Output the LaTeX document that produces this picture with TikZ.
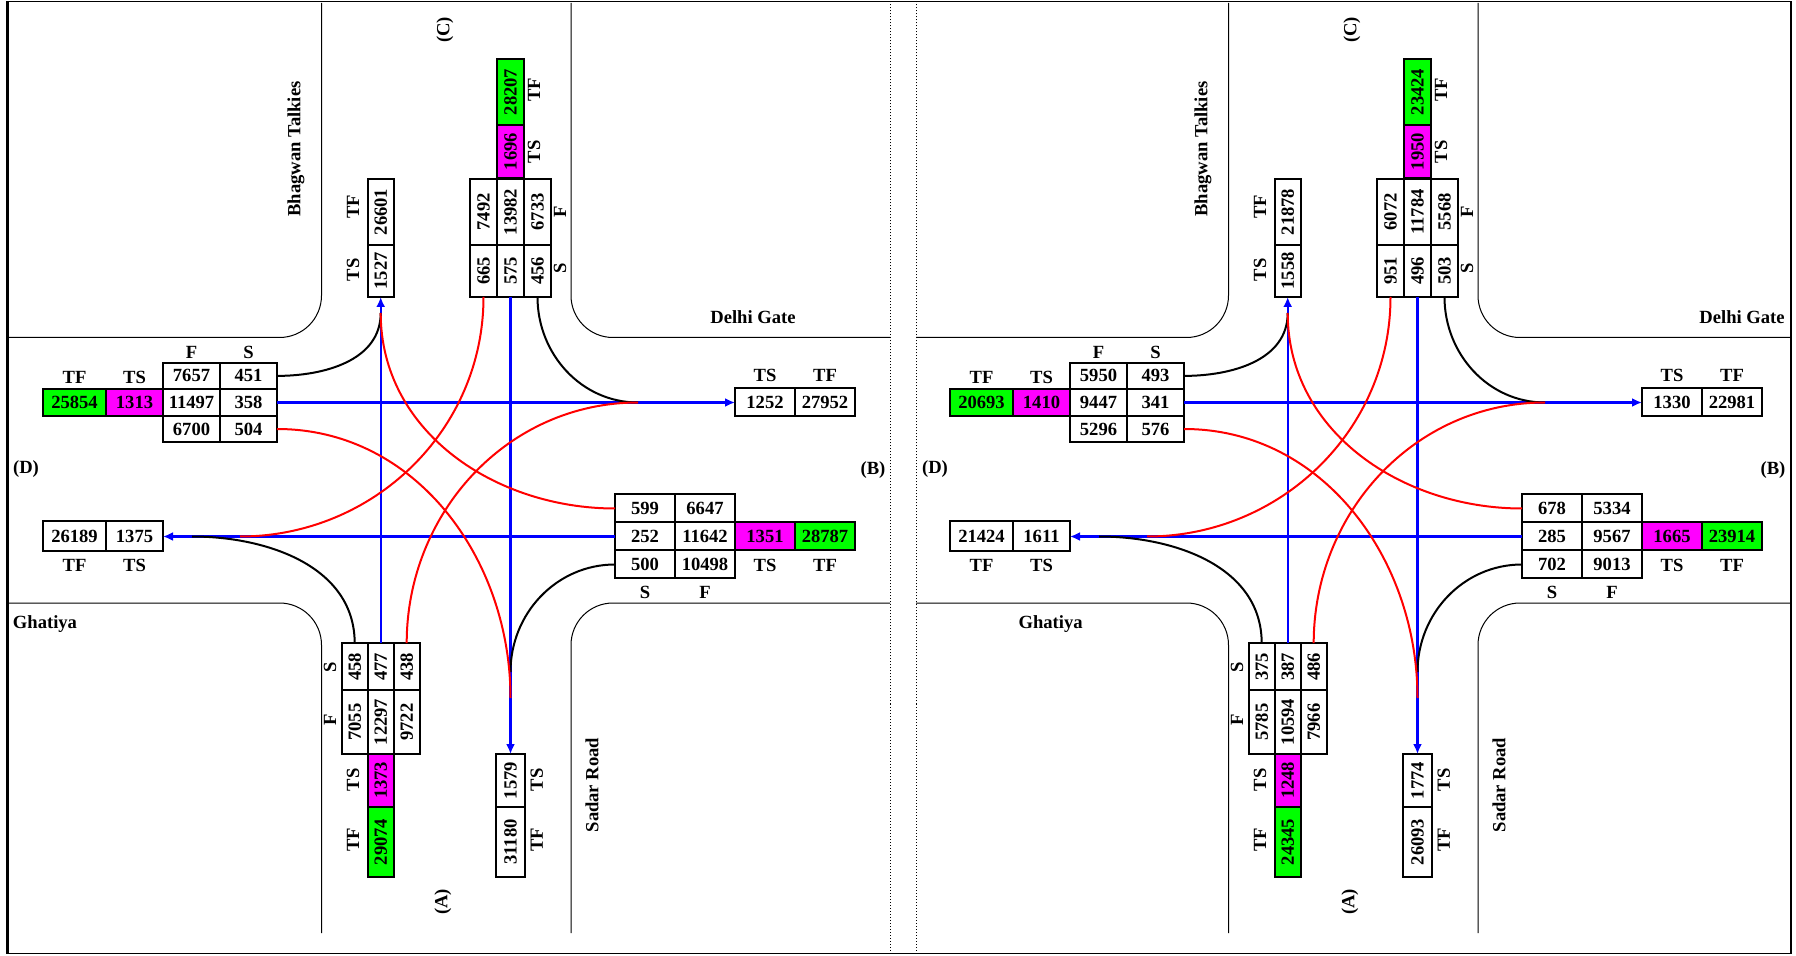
\documentclass[tikz,border=0pt]{standalone}
\usepackage{fontspec}
\setmainfont{Liberation Serif}
\usepackage{tikz}
\usetikzlibrary{arrows.meta}
\definecolor{TFGreen}{HTML}{00FF00}
\definecolor{TSMagenta}{HTML}{FF00FF}
\definecolor{FlowBlue}{HTML}{0000FF}
\definecolor{FlowRed}{HTML}{FF0000}
\newcommand{\cellfont}{\fontsize{9.3}{10}\selectfont\bfseries}
\tikzset{
  road/.style={line width=.5pt,rounded corners=21pt},
  cell/.style={draw,line width=1pt,inner sep=0pt,outer sep=0pt,font=\cellfont},
  hcell/.style={cell,minimum width=28.5pt,minimum height=13.25pt},
  bcell/.style={cell,minimum width=30pt,minimum height=14pt},
  vcell/.style={cell,rotate=90,minimum height=13.5pt},
  tsbox/.style={fill=TSMagenta},
  tfbox/.style={fill=TFGreen},
  lab/.style={font=\cellfont,inner sep=0pt},
  vlab/.style={lab,rotate=90},
  thru/.style={FlowBlue,line width=1.2pt,-{Latex[length=5pt,width=4.5pt]}},
  turnk/.style={black,line width=1pt},
  turnr/.style={FlowRed,line width=1pt}
}
\begin{document}
\begin{tikzpicture}[x=0.5pt,y=0.5pt]
\path[use as bounding box] (0,0) rectangle (1796,955);
% frame
\draw[line width=.6pt] (8,1.5) rectangle (1791,953.5);
\draw[line width=1.2pt] (7.5,1.5) -- (7.5,953.5);
\draw[densely dotted,line width=.5pt] (890,1.5) -- (890,953.5);
\draw[densely dotted,line width=.5pt] (916,1.5) -- (916,953.5);

% ---------------- left junction ----------------
\begin{scope}
\draw[road] (321.5,952) |- (8,617.5);
\draw[road] (571,952) |- (890,617.5);
\draw[road] (321.5,22) |- (8,352);
\draw[road] (571,22) |- (890,352);
\node[vlab] (lblC) at (445,925) {(C)};
\node[vlab] (lblA) at (443,53) {(A)};
\node[lab] (lblD) at (26,486) {(D)};
\node[lab] (lblB) at (873,485) {(B)};
\node[vlab] (bhagwan) at (296,806) {Bhagwan Talkies};
\node[lab] (delhi) at (753,638) {Delhi Gate};
\node[lab] (ghatiya) at (45,331) {Ghatiya};
\node[vlab] (sadar) at (592,170) {Sadar Road};

% approach D
\node[hcell] (Df1) at (191.5,579.1) {7657};
\node[hcell] (Ds1) at (248.5,579.1) {451};
\node[hcell] (Df2) at (191.5,552.5) {11497};
\node[hcell] (Ds2) at (248.5,552.5) {358};
\node[hcell] (Df3) at (191.5,526) {6700};
\node[hcell] (Ds3) at (248.5,526) {504};
\node[hcell,tsbox] (Dts) at (134.5,552.5) {1313};
\node[hcell,tfbox,minimum width=31.5pt] (Dtf) at (74.5,552.5) {25854};
\node[lab] (DlF) at (191.5,603) {F};
\node[lab] (DlS) at (248.5,603) {S};
\node[lab] (DlTF) at (74.5,578) {TF};
\node[lab] (DlTS) at (134.5,578) {TS};
\node[hcell,minimum width=31.5pt,minimum height=15pt] (Dotf) at (74.5,418.5) {26189};
\node[hcell,minimum height=15pt] (Dots) at (134.5,418.5) {1375};
\node[lab] (DolTF) at (74.5,390) {TF};
\node[lab] (DolTS) at (134.5,390) {TS};

% approach B
\node[bcell] (Bs1) at (645,446.5) {599};
\node[bcell] (Bf1) at (705,446.5) {6647};
\node[bcell] (Bs2) at (645,418.5) {252};
\node[bcell] (Bf2) at (705,418.5) {11642};
\node[bcell,tsbox] (Bts) at (765,418.5) {1351};
\node[bcell,tfbox] (Btf) at (825,418.5) {28787};
\node[bcell] (Bs3) at (645,390.5) {500};
\node[bcell] (Bf3) at (705,390.5) {10498};
\node[lab] (BlS) at (645,363) {S};
\node[lab] (BlF) at (705,363) {F};
\node[lab] (BlTS) at (765,390) {TS};
\node[lab] (BlTF) at (825,390) {TF};
\node[bcell] (Bots) at (765,552.5) {1252};
\node[bcell] (Botf) at (825,552.5) {27952};
\node[lab] (BolTS) at (765,580) {TS};
\node[lab] (BolTF) at (825,580) {TF};

% approach C
\node[vcell,minimum width=33pt] (Cf1) at (483.5,743) {7492};
\node[vcell,minimum width=33pt] (Cf2) at (510.5,743) {13982};
\node[vcell,minimum width=33pt] (Cf3) at (537.5,743) {6733};
\node[vcell,minimum width=26pt] (Cs1) at (483.5,684) {665};
\node[vcell,minimum width=26pt] (Cs2) at (510.5,684) {575};
\node[vcell,minimum width=26pt] (Cs3) at (537.5,684) {456};
\node[vcell,tsbox,minimum width=26.5pt] (Cts) at (510.5,803.5) {1696};
\node[vcell,tfbox,minimum width=33pt] (Ctf) at (510.5,863) {28207};
\node[vlab] (ClF) at (560,743) {F};
\node[vlab] (ClS) at (560,687) {S};
\node[vlab] (ClTS) at (534,803) {TS};
\node[vlab] (ClTF) at (534,865) {TF};
\node[vcell,minimum width=33pt,minimum height=13pt] (Cotf) at (380.7,743) {26601};
\node[vcell,minimum width=26pt,minimum height=13pt] (Cots) at (380.7,684) {1527};
\node[vlab] (ColTF) at (353,748) {TF};
\node[vlab] (ColTS) at (353,685) {TS};

% approach A
\node[vcell,minimum width=23.5pt,minimum height=13pt] (As1) at (354.7,288.3) {458};
\node[vcell,minimum width=23.5pt,minimum height=13pt] (As2) at (380.7,288.3) {477};
\node[vcell,minimum width=23.5pt,minimum height=13pt] (As3) at (406.7,288.3) {438};
\node[vcell,minimum width=32pt,minimum height=13pt] (Af1) at (354.7,233) {7055};
\node[vcell,minimum width=32pt,minimum height=13pt] (Af2) at (380.7,233) {12297};
\node[vcell,minimum width=32pt,minimum height=13pt] (Af3) at (406.7,233) {9722};
\node[vcell,tsbox,minimum width=26.5pt,minimum height=13pt] (Ats) at (380.7,174.7) {1373};
\node[vcell,tfbox,minimum width=35pt,minimum height=13pt] (Atf) at (380.7,113) {29074};
\node[vlab] (AlS) at (330,288) {S};
\node[vlab] (AlF) at (330,235) {F};
\node[vlab] (AlTS) at (353,175) {TS};
\node[vlab] (AlTF) at (353,115) {TF};
\node[vcell,minimum width=26.5pt,minimum height=14.5pt] (Aots) at (510.5,174.5) {1579};
\node[vcell,minimum width=35pt,minimum height=14.5pt] (Aotf) at (510.5,113) {31180};
\node[vlab] (AolTS) at (536.7,175) {TS};
\node[vlab] (AolTF) at (536.7,115) {TF};

% movements
\coordinate (CoJ) at (380.7,642);
\coordinate (BoJ) at (638,552.5);
\coordinate (AoJr) at (510.5,257);
\coordinate (AoJk) at (510.5,283);
\coordinate (DoJr) at (240,418.5);
\coordinate (DoJk) at (192,418.5);
\draw[thru] (Ds2.east) -- (Bots.west);
\draw[thru] (Bs2.west) -- (Dots.east);
\draw[thru] (As2.east) -- (Cots.west);
\draw[thru] (Cs2.west) -- (Aots.east);
\draw[turnk] (Ds1.east) to[out=0,in=-90] (CoJ);
\draw[turnk] (Cs3.west) to[out=-90,in=180] (BoJ);
\draw[turnk] (Bs3.west) to[out=180,in=90] (AoJk);
\draw[turnk] (As1.east) to[out=90,in=0] (DoJk);
\draw[turnr] (Ds3.east) to[out=0,in=90] (AoJr);
\draw[turnr] (Cs1.west) to[out=-90,in=0] (DoJr);
\draw[turnr] (Bs1.west) to[out=180,in=-90] (CoJ);
\draw[turnr] (As3.east) to[out=90,in=180] (BoJ);
\end{scope}

% ---------------- right junction ----------------
\begin{scope}[xshift=453.5pt]
\draw[road] (321.5,952) |- (9,617.5);
\draw[road] (571,952) |- (883,617.5);
\draw[road] (321.5,22) |- (9,352);
\draw[road] (571,22) |- (883,352);
\node[vlab] (lblC) at (445,925) {(C)};
\node[vlab] (lblA) at (443,53) {(A)};
\node[lab] (lblD) at (28,486) {(D)};
\node[lab] (lblB) at (866,485) {(B)};
\node[vlab] (bhagwan) at (296,806) {Bhagwan Talkies};
\node[lab] (delhi) at (835,638) {Delhi Gate};
\node[lab] (ghatiya) at (143.6,331) {Ghatiya};
\node[vlab] (sadar) at (592,170) {Sadar Road};

% approach D
\node[hcell] (Df1) at (191.5,579.1) {5950};
\node[hcell] (Ds1) at (248.5,579.1) {493};
\node[hcell] (Df2) at (191.5,552.5) {9447};
\node[hcell] (Ds2) at (248.5,552.5) {341};
\node[hcell] (Df3) at (191.5,526) {5296};
\node[hcell] (Ds3) at (248.5,526) {576};
\node[hcell,tsbox] (Dts) at (134.5,552.5) {1410};
\node[hcell,tfbox,minimum width=31.5pt] (Dtf) at (74.5,552.5) {20693};
\node[lab] (DlF) at (191.5,603) {F};
\node[lab] (DlS) at (248.5,603) {S};
\node[lab] (DlTF) at (74.5,578) {TF};
\node[lab] (DlTS) at (134.5,578) {TS};
\node[hcell,minimum width=31.5pt,minimum height=15pt] (Dotf) at (74.5,418.5) {21424};
\node[hcell,minimum height=15pt] (Dots) at (134.5,418.5) {1611};
\node[lab] (DolTF) at (74.5,390) {TF};
\node[lab] (DolTS) at (134.5,390) {TS};

% approach B
\node[bcell] (Bs1) at (645,446.5) {678};
\node[bcell] (Bf1) at (705,446.5) {5334};
\node[bcell] (Bs2) at (645,418.5) {285};
\node[bcell] (Bf2) at (705,418.5) {9567};
\node[bcell,tsbox] (Bts) at (765,418.5) {1665};
\node[bcell,tfbox] (Btf) at (825,418.5) {23914};
\node[bcell] (Bs3) at (645,390.5) {702};
\node[bcell] (Bf3) at (705,390.5) {9013};
\node[lab] (BlS) at (645,363) {S};
\node[lab] (BlF) at (705,363) {F};
\node[lab] (BlTS) at (765,390) {TS};
\node[lab] (BlTF) at (825,390) {TF};
\node[bcell] (Bots) at (765,552.5) {1330};
\node[bcell] (Botf) at (825,552.5) {22981};
\node[lab] (BolTS) at (765,580) {TS};
\node[lab] (BolTF) at (825,580) {TF};

% approach C
\node[vcell,minimum width=33pt] (Cf1) at (483.5,743) {6072};
\node[vcell,minimum width=33pt] (Cf2) at (510.5,743) {11784};
\node[vcell,minimum width=33pt] (Cf3) at (537.5,743) {5568};
\node[vcell,minimum width=26pt] (Cs1) at (483.5,684) {951};
\node[vcell,minimum width=26pt] (Cs2) at (510.5,684) {496};
\node[vcell,minimum width=26pt] (Cs3) at (537.5,684) {503};
\node[vcell,tsbox,minimum width=26.5pt] (Cts) at (510.5,803.5) {1950};
\node[vcell,tfbox,minimum width=33pt] (Ctf) at (510.5,863) {23424};
\node[vlab] (ClF) at (560,743) {F};
\node[vlab] (ClS) at (560,687) {S};
\node[vlab] (ClTS) at (534,803) {TS};
\node[vlab] (ClTF) at (534,865) {TF};
\node[vcell,minimum width=33pt,minimum height=13pt] (Cotf) at (380.7,743) {21878};
\node[vcell,minimum width=26pt,minimum height=13pt] (Cots) at (380.7,684) {1558};
\node[vlab] (ColTF) at (353,748) {TF};
\node[vlab] (ColTS) at (353,685) {TS};

% approach A
\node[vcell,minimum width=23.5pt,minimum height=13pt] (As1) at (354.7,288.3) {375};
\node[vcell,minimum width=23.5pt,minimum height=13pt] (As2) at (380.7,288.3) {387};
\node[vcell,minimum width=23.5pt,minimum height=13pt] (As3) at (406.7,288.3) {486};
\node[vcell,minimum width=32pt,minimum height=13pt] (Af1) at (354.7,233) {5785};
\node[vcell,minimum width=32pt,minimum height=13pt] (Af2) at (380.7,233) {10594};
\node[vcell,minimum width=32pt,minimum height=13pt] (Af3) at (406.7,233) {7966};
\node[vcell,tsbox,minimum width=26.5pt,minimum height=13pt] (Ats) at (380.7,174.7) {1248};
\node[vcell,tfbox,minimum width=35pt,minimum height=13pt] (Atf) at (380.7,113) {24345};
\node[vlab] (AlS) at (330,288) {S};
\node[vlab] (AlF) at (330,235) {F};
\node[vlab] (AlTS) at (353,175) {TS};
\node[vlab] (AlTF) at (353,115) {TF};
\node[vcell,minimum width=26.5pt,minimum height=14.5pt] (Aots) at (510.5,174.5) {1774};
\node[vcell,minimum width=35pt,minimum height=14.5pt] (Aotf) at (510.5,113) {26093};
\node[vlab] (AolTS) at (536.7,175) {TS};
\node[vlab] (AolTF) at (536.7,115) {TF};

% movements
\coordinate (CoJ) at (380.7,642);
\coordinate (BoJ) at (638,552.5);
\coordinate (AoJr) at (510.5,257);
\coordinate (AoJk) at (510.5,283);
\coordinate (DoJr) at (240,418.5);
\coordinate (DoJk) at (192,418.5);
\draw[thru] (Ds2.east) -- (Bots.west);
\draw[thru] (Bs2.west) -- (Dots.east);
\draw[thru] (As2.east) -- (Cots.west);
\draw[thru] (Cs2.west) -- (Aots.east);
\draw[turnk] (Ds1.east) to[out=0,in=-90] (CoJ);
\draw[turnk] (Cs3.west) to[out=-90,in=180] (BoJ);
\draw[turnk] (Bs3.west) to[out=180,in=90] (AoJk);
\draw[turnk] (As1.east) to[out=90,in=0] (DoJk);
\draw[turnr] (Ds3.east) to[out=0,in=90] (AoJr);
\draw[turnr] (Cs1.west) to[out=-90,in=0] (DoJr);
\draw[turnr] (Bs1.west) to[out=180,in=-90] (CoJ);
\draw[turnr] (As3.east) to[out=90,in=180] (BoJ);
\end{scope}
\end{tikzpicture}
\end{document}
